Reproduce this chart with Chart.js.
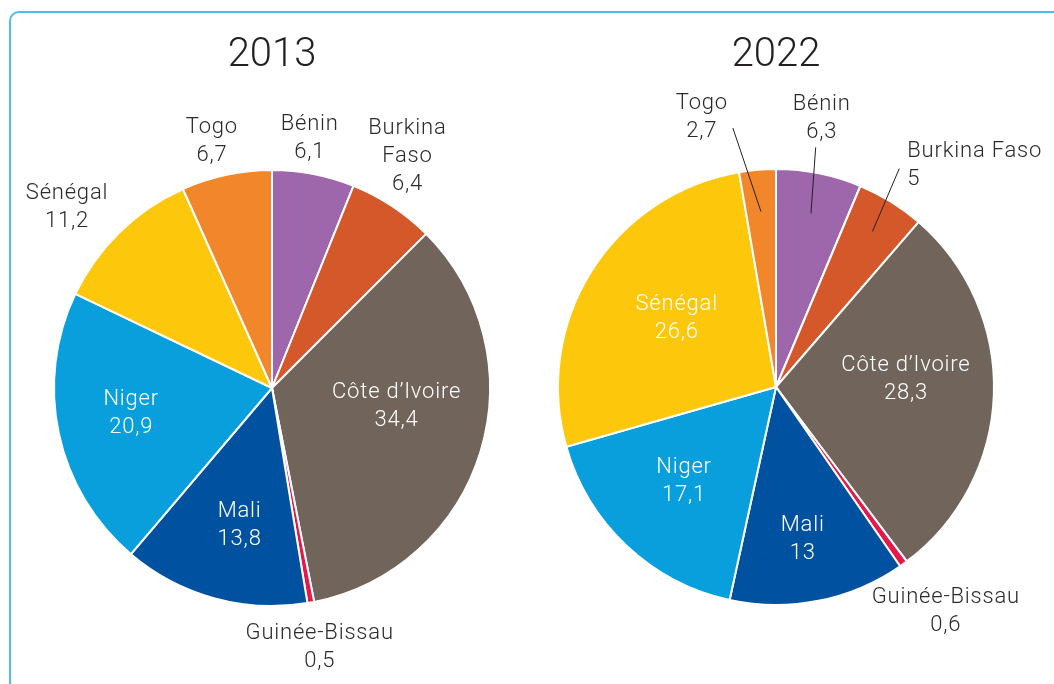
<!DOCTYPE html>
<html>
<head>
<meta charset="utf-8">
<script src="https://cdn.jsdelivr.net/npm/chart.js@4"></script>
<style>
  body { margin: 0; background: #fff; overflow: hidden; }
  .frame { position: absolute; left: 9px; top: 11px; width: 1100px; height: 720px;
           border: 2px solid #4bbde6; border-radius: 10px; box-sizing: border-box; }
  canvas { position: absolute; top: 0; }
</style>
</head>
<body>
<div class="frame"></div>
<canvas id="pie2013" width="527" height="684" style="left:0"></canvas>
<canvas id="pie2022" width="527" height="684" style="left:527px"></canvas>
<script>
// data (% share)
const countries = ['Bénin', 'Burkina Faso', "Côte d'Ivoire", 'Guinée-Bissau', 'Mali', 'Niger', 'Sénégal', 'Togo'];
const values2013 = [6.1, 6.4, 34.4, 0.5, 13.8, 20.9, 11.2, 6.7];
const values2022 = [6.3, 5, 28.3, 0.6, 13, 17.1, 26.6, 2.7];
const colors = ['#9e66ab', '#d4582a', '#70645b', '#e8174a', '#0052a0', '#089fdc', '#fdc70c', '#f2862a'];

const fontFamily = 'Roboto, "Liberation Sans", sans-serif';
const dark = '#2b2b2b';

// label placement: rad along slice mid angle, then nudge
// lines = text lines, lead = [x,y offset from text, radius of line end]
const labels2013 = [
  { lines: ['Bénin', '6,1'], rad: 256, dx: -11, dy: 0, color: dark },
  { lines: ['Burkina', 'Faso', '6,4'], rad: 269, dx: -13, dy: -9, color: dark },
  { lines: ['Côte d’Ivoire', '34,4'], rad: 125, dx: 5, dy: -20, color: '#fff' },
  { lines: ['Guinée-Bissau', '0,5'], rad: 262, dx: 1, dy: 0, color: dark },
  { lines: ['Mali', '13,8'], rad: 140, dx: 5, dy: 1, color: '#fff' },
  { lines: ['Niger', '20,9'], rad: 144, dx: 0, dy: -7, color: '#fff' },
  { lines: ['Sénégal', '11,2'], rad: 275, dx: -13, dy: 14, color: dark },
  { lines: ['Togo', '6,7'], rad: 254, dx: -7, dy: 0, color: dark }
];
const labels2022 = [
  { lines: ['Bénin', '6,3'], rad: 272, dx: -8, dy: -4, color: dark, lead: [-6, 29, 177] },
  { lines: ['Burkina Faso', '5'], rad: 270, dx: -11, dy: -8, color: dark, align: 'left', lead: [-8, 17, 183], first: true },
  { lines: ['Côte d’Ivoire', '28,3'], rad: 130, dx: 0, dy: -14, color: '#fff' },
  { lines: ['Guinée-Bissau', '0,6'], rad: 275, dx: 9, dy: -1, color: dark },
  { lines: ['Mali', '13'], rad: 153, dx: -3, dy: 0, color: '#fff' },
  { lines: ['Niger', '17,1'], rad: 130, dx: -3, dy: -2, color: '#fff' },
  { lines: ['Sénégal', '26,6'], rad: 122, dx: 4, dy: -6, color: '#fff' },
  { lines: ['Togo', '2,7'], rad: 272, dx: -51, dy: 0, color: dark, lead: [31, 10, 176] }
];

const lineH = 28;

const pieLabels = {
  id: 'pieLabels',
  afterDraw(chart, args, opts) {
    const ctx = chart.ctx;
    const arcs = chart.getDatasetMeta(0).data;
    const cx = arcs[0].x, cy = arcs[0].y;
    ctx.save();
    // title
    ctx.fillStyle = '#231f20';
    ctx.font = '300 40px ' + fontFamily;
    ctx.textAlign = 'center';
    ctx.textBaseline = 'middle';
    ctx.fillText(opts.title, cx, 56);
    ctx.font = '300 22px ' + fontFamily;
    ctx.letterSpacing = '0.8px';
    arcs.forEach((arc, i) => {
      const lab = opts.labels[i];
      const mid = (arc.startAngle + arc.endAngle) / 2;
      const x = cx + Math.cos(mid) * lab.rad + lab.dx;
      const y = cy + Math.sin(mid) * lab.rad + lab.dy + 2;
      // block centred vertically unless it's anchored on the first line
      const top = lab.first ? y : y - (lab.lines.length - 1) * lineH / 2;
      ctx.fillStyle = lab.color;
      ctx.textAlign = lab.align || 'center';
      lab.lines.forEach((t, k) => ctx.fillText(t, x, top + k * lineH));
      if (lab.lead) {
        ctx.strokeStyle = '#222';
        ctx.lineWidth = 1;
        ctx.beginPath();
        ctx.moveTo(x + lab.lead[0], y + lab.lead[1]);
        ctx.lineTo(cx + Math.cos(mid) * lab.lead[2], cy + Math.sin(mid) * lab.lead[2]);
        ctx.stroke();
      }
    });
    ctx.restore();
  }
};

function makePie(id, values, title, labels, padding) {
  return new Chart(document.getElementById(id), {
    type: 'pie',
    data: {
      labels: countries,
      datasets: [{ data: values, backgroundColor: colors, borderColor: '#fff', borderWidth: 2 }]
    },
    options: {
      responsive: false,
      animation: false,
      layout: { padding: padding },
      plugins: {
        legend: { display: false },
        tooltip: { enabled: false },
        pieLabels: { title: title, labels: labels }
      }
    },
    plugins: [pieLabels]
  });
}

makePie('pie2013', values2013, '2013', labels2013, { left: 53, right: 36, top: 169, bottom: 77 });
makePie('pie2022', values2022, '2022', labels2022, { left: 30, right: 59, top: 168, bottom: 78 });
</script>
</body>
</html>
